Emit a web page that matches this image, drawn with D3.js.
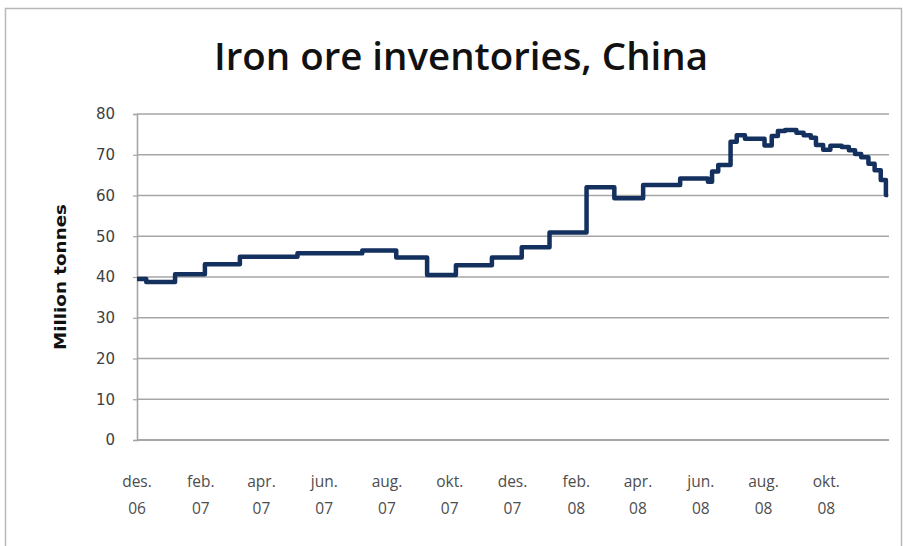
<!DOCTYPE html>
<html>
<head>
<meta charset="utf-8">
<script src="https://cdn.jsdelivr.net/npm/d3@7"></script>
<style>
  html, body { margin: 0; padding: 0; background: #fff; }
  svg { display: block; }
</style>
</head>
<body>
<svg id="chart" width="903" height="546"></svg>
<script>
// ---- data ----
const stepDates = [
  "2006-12-01","2006-12-10","2007-01-07","2007-02-05","2007-03-11","2007-05-06",
  "2007-07-08","2007-08-10","2007-09-09","2007-10-07","2007-11-11","2007-12-10",
  "2008-01-06","2008-02-11","2008-03-09","2008-04-06","2008-05-12","2008-06-08",
  "2008-06-12","2008-06-18","2008-06-30","2008-07-06","2008-07-14","2008-08-02",
  "2008-08-09","2008-08-15","2008-08-22","2008-09-02","2008-09-09","2008-09-16",
  "2008-09-21","2008-09-28","2008-10-05","2008-10-16","2008-10-23","2008-10-29",
  "2008-11-04","2008-11-11","2008-11-17","2008-11-23","2008-11-28","2008-11-30"
];
const stepValues = [
  39.5, 38.8, 40.7, 43.1, 45.0, 45.8,
  46.5, 44.8, 40.5, 42.9, 44.8, 47.3,
  50.9, 62.0, 59.3, 62.6, 64.2, 63.4,
  65.9, 67.5, 73.2, 74.8, 73.9, 72.3,
  74.6, 75.8, 76.1, 75.4, 74.8, 74.2,
  72.4, 71.2, 72.2, 71.9, 71.1, 70.2,
  69.4, 67.8, 66.2, 63.8, 60.1, 60.1
];
const tickMonths = ["2006-12-01","2007-02-01","2007-04-01","2007-06-01","2007-08-01","2007-10-01",
                    "2007-12-01","2008-02-01","2008-04-01","2008-06-01","2008-08-01","2008-10-01"];
const tickLine1 = ["des.","feb.","apr.","jun.","aug.","okt.","des.","feb.","apr.","jun.","aug.","okt."];
const tickLine2 = ["06","07","07","07","07","07","07","08","08","08","08","08"];
const yTicks = [0,10,20,30,40,50,60,70,80];
const titleText = "Iron ore inventories, China";
const yTitle = "Million tonnes";

// ---- drawing ----
const parse = d3.utcParse("%Y-%m-%d");
const data = stepDates.map((d, i) => ({ date: parse(d), value: stepValues[i] }));

const svg = d3.select("#chart");
const plot = { left: 137, right: 889, top: 114, bottom: 440 };

// outer frame
svg.append("rect")
  .attr("x", 5.5).attr("y", 8.5).attr("width", 896).attr("height", 560)
  .attr("fill", "#fff").attr("stroke", "#b8b8b8").attr("stroke-width", 1.5);

const x = d3.scaleUtc()
  .domain([parse("2006-12-01"), parse("2008-12-01")])
  .range([plot.left, plot.right]);
const y = d3.scaleLinear().domain([0, 80]).range([plot.bottom, plot.top]);

// gridlines
svg.append("g")
  .selectAll("line")
  .data(yTicks.filter(t => t > 0))
  .join("line")
  .attr("x1", plot.left).attr("x2", plot.right)
  .attr("y1", d => y(d)).attr("y2", d => y(d))
  .attr("stroke", "#a6a6a6").attr("stroke-width", 1.6);

// y axis
const yAxis = svg.append("g")
  .attr("transform", `translate(${plot.left},0)`)
  .call(d3.axisLeft(y).tickValues(yTicks).tickSize(4).tickPadding(18));
yAxis.select(".domain").attr("stroke", "#a6a6a6").attr("stroke-width", 1.6);
yAxis.selectAll(".tick line").attr("stroke", "#a6a6a6").attr("stroke-width", 1.2);
yAxis.selectAll(".tick text")
  .attr("font-family", "'DejaVu Sans', Verdana, sans-serif")
  .attr("font-size", 15).attr("fill", "#404040");

// x axis baseline
svg.append("line")
  .attr("x1", plot.left).attr("x2", plot.right)
  .attr("y1", y(0)).attr("y2", y(0))
  .attr("stroke", "#a6a6a6").attr("stroke-width", 1.8);

// x labels (two lines)
const xl = svg.append("g")
  .attr("font-family", "'Open Sans', 'Liberation Sans', sans-serif")
  .attr("font-size", 15.5).attr("fill", "#4d4d4d").attr("text-anchor", "middle");
tickMonths.forEach((m, i) => {
  const t = xl.append("text").attr("x", x(parse(m)));
  t.append("tspan").attr("x", x(parse(m))).attr("y", 487).text(tickLine1[i]);
  t.append("tspan").attr("x", x(parse(m))).attr("y", 514).text(tickLine2[i]);
});

// line
const line = d3.line()
  .x(d => x(d.date))
  .y(d => y(d.value))
  .curve(d3.curveStepAfter);
svg.append("path")
  .datum(data)
  .attr("d", line)
  .attr("fill", "none")
  .attr("stroke", "#13305e")
  .attr("stroke-width", 4.5)
  .attr("stroke-linejoin", "round");

// title
svg.append("text")
  .attr("x", 461).attr("y", 70)
  .attr("text-anchor", "middle")
  .attr("font-family", "'Open Sans', 'Liberation Sans', sans-serif")
  .attr("font-weight", 600)
  .attr("font-size", 37)
  .attr("textLength", 494).attr("lengthAdjust", "spacingAndGlyphs")
  .attr("fill", "#111")
  .text(titleText);

// y title
svg.append("text")
  .attr("transform", "translate(66,277) rotate(-90)")
  .attr("text-anchor", "middle")
  .attr("font-family", "'DejaVu Sans', Verdana, sans-serif")
  .attr("font-weight", "bold")
  .attr("font-size", 15)
  .attr("textLength", 146).attr("lengthAdjust", "spacingAndGlyphs")
  .attr("fill", "#111")
  .text(yTitle);
</script>
</body>
</html>
